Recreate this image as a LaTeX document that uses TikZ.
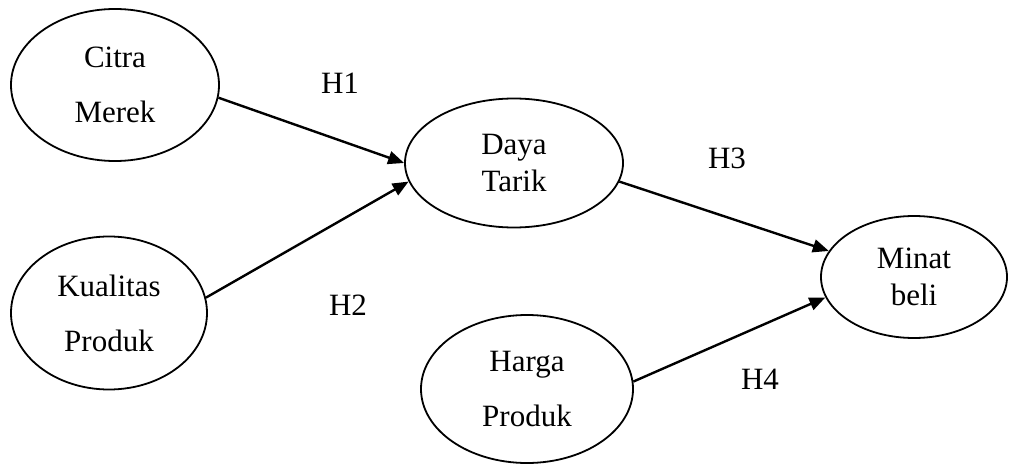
\documentclass[tikz,border=0pt]{standalone}
\usepackage{fontspec}
\setmainfont{Liberation Serif}
\usetikzlibrary{shapes.geometric,arrows.meta}
\begin{document}
\begin{tikzpicture}[x=1pt,y=-1pt,
  var/.style={ellipse,draw,line width=1.8pt,inner sep=0pt,align=center,
    font=\fontsize{31}{55}\selectfont},
  tight/.style={font=\fontsize{31}{37}\selectfont},
  lbl/.style={font=\fontsize{31}{37}\selectfont,inner sep=0pt},
  link/.style={line width=2.4pt,-{Triangle[length=16pt,width=13pt]}}]
\useasboundingbox (0,0) rectangle (1009,465);
\node[var,minimum width=208pt,minimum height=152pt] (cm) at (115,85) {Citra\\Merek};
\node[var,minimum width=196pt,minimum height=153pt] (kp) at (109,313) {Kualitas\\Produk};
\node[var,tight,minimum width=218pt,minimum height=129pt] (dt) at (514,163) {Daya\\Tarik};
\node[var,tight,minimum width=186pt,minimum height=122pt] (mb) at (914,277) {Minat\\beli};
\node[var,minimum width=212pt,minimum height=148pt] (hp) at (527,389) {Harga\\Produk};
\draw[link] (cm.-7) -- (dt.180);
\draw[link] (kp.9) -- (dt.190);
\draw[link] (dt.-10) -- (mb.163);
\draw[link] (hp.4) -- (mb.193);
\node[lbl] (h1) at (340,83) {H1};
\node[lbl] (h2) at (348,305) {H2};
\node[lbl] (h3) at (727,158) {H3};
\node[lbl] (h4) at (760,379) {H4};
\end{tikzpicture}
\end{document}
